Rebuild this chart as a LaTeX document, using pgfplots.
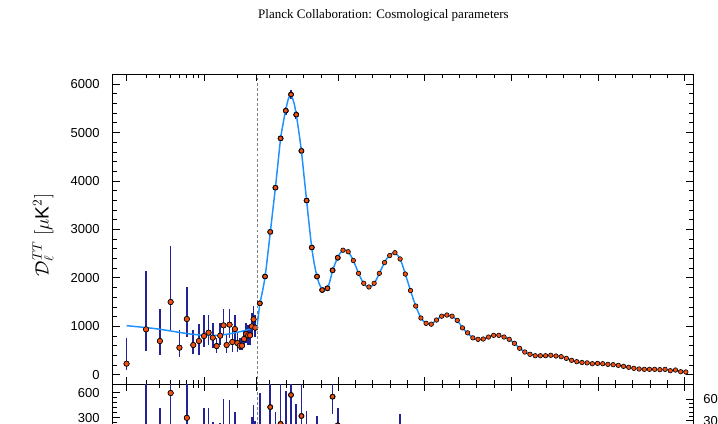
\documentclass[border=0pt]{standalone}
\usepackage{fontspec}
\setmainfont{Liberation Sans}
\newfontfamily\titlefont{Liberation Serif}
\usepackage{pgfplots}
\pgfplotsset{compat=1.18}

\definecolor{ptdot}{RGB}{240,80,20}
\definecolor{ptmodel}{RGB}{30,144,255}
\definecolor{pterr}{RGB}{35,35,150}

\pgfplotsset{
  planck/.style={
    scale only axis,
    axis line style={draw=none},
    clip mode=individual,
    tick align=inside,
    major tick length=5.25pt,
    minor tick length=3pt,
    every tick/.style={black, line width=0.7pt},
    tick label style={font=\fontsize{9.75}{10}\selectfont},
    /pgf/number format/assume math mode=true,
    /pgf/number format/1000 sep={},
    scaled y ticks=false,
    xticklabel=\empty,
  },
  errstyle/.style={only marks, mark=none, forget plot,
    error bars/y dir=both, error bars/y explicit, error bars/error mark=none,
    error bars/error bar style={draw=pterr, line width=1.2pt, solid}},
  dotstyle/.style={only marks, mark=*, mark size=#1,
    mark options={fill=ptdot, draw=black, line width=0.45pt}},
  modelstyle/.style={smooth, ptmodel, line width=1.1pt, mark=none},
}

\begin{document}
\begin{tikzpicture}
\begin{scope}
\clip (0pt,0pt) rectangle (538.5pt,318pt);

\node[font=\titlefont\fontsize{9.75}{12}\selectfont] at (287.6pt,306.75pt)
  {Planck Collaboration: Cosmological parameters};
\node[rotate=90, font=\fontsize{14.4}{17}\selectfont] at (32.25pt,141.75pt)
  {$\mathcal{D}_\ell^{TT}$ $[\mu\mathrm{K}^2]$};
\node[rotate=90, anchor=east, font=\fontsize{14.4}{17}\selectfont] at (23.25pt,-2pt)
  {$\Delta\mathcal{D}_\ell^{TT}$ $[\mu\mathrm{K}^2]$};

% ---------- top panel, low multipoles (log scale) ----------
\begin{axis}[planck, xmode=log, xmin=1.5, xmax=30,
  xtick={2,10,30}, minor xtick={3,4,5,6,7,8,9,20},
  xtick pos=both, ytick pos=left, yticklabel style={xshift=-6.3pt},
  at={(84.525pt,29.625pt)}, anchor=south west,
  width=108.15pt, height=232.5pt, ymin=-200, ymax=6200,
  ytick={0,1000,...,6000}, minor y tick num=4]
  \draw[line width=1pt] (rel axis cs:1,0) -| (rel axis cs:0,1) -- (rel axis cs:1,1);
  \addplot[errstyle] coordinates {
    (2,229) += (0,524) -= (0,130)
    (3,939) += (0,1204) -= (0,448)
    (4,698) += (0,654) -= (0,296)
    (5,1503) += (0,1156) -= (0,578)
    (6,560) += (0,365) -= (0,199)
    (7,1152) += (0,667) -= (0,365)
    (8,615) += (0,310) -= (0,185)
    (9,698) += (0,351) -= (0,289)
    (10,801) += (0,433) -= (0,227)
    (11,870) += (0,364) -= (0,255)
    (12,766) += (0,297) -= (0,219)
    (13,594) += (0,159) -= (0,151)
    (14,808) += (0,255) -= (0,193)
    (15,1021) += (0,337) -= (0,199)
    (16,615) += (0,207) -= (0,172)
    (17,1035) += (0,323) -= (0,282)
    (18,677) += (0,248) -= (0,199)
    (19,945) += (0,289) -= (0,295)
    (20,656) += (0,200) -= (0,178)
    (21,601) += (0,152) -= (0,89)
    (22,601) += (0,152) -= (0,89)
    (23,739) += (0,186) -= (0,159)
    (24,842) += (0,234) -= (0,192)
    (25,815) += (0,213) -= (0,200)
    (26,815) += (0,213) -= (0,200)
    (27,1000) += (0,270) -= (0,213)
    (28,1145) += (0,275) -= (0,220)
    (29,973) += (0,261) -= (0,186)
  };
  \addplot[modelstyle] coordinates {
    (2,1014) (3,975) (4,940) (5,905) (6,875) (7,852) (8,835) (10,816)
    (12,813) (14,820) (16,836) (18,856) (20,878) (22,900) (24,922)
    (26,944) (28,966) (30,988)
  };
  \addplot[dotstyle=2pt] coordinates {
    (2,229) (3,939) (4,698) (5,1503) (6,560) (7,1152) (8,615) (9,698)
    (10,801) (11,870) (12,766) (13,594) (14,808) (15,1021) (16,615)
    (17,1035) (18,677) (19,945) (20,656) (21,601) (22,601) (23,739)
    (24,842) (25,815) (26,815) (27,1000) (28,1145) (29,973)
  };
\end{axis}

% ---------- top panel, high multipoles (linear scale) ----------
\begin{axis}[planck, xmin=30, xmax=2550,
  xtick={500,1000,1500,2000,2500},
  minor xtick={100,200,300,400,600,700,800,900,1100,1200,1300,1400,
               1600,1700,1800,1900,2100,2200,2300,2400},
  xtick pos=both, ytick pos=right,
  at={(192.675pt,29.625pt)}, anchor=south west,
  width=327.3pt, height=232.5pt, ymin=-200, ymax=6200,
  ytick={0,1000,...,6000}, minor y tick num=4, yticklabel=\empty]
  \draw[gray, dash pattern=on 2.2pt off 1.6pt, line width=0.6pt]
    (rel axis cs:0,0) -- (rel axis cs:0,1);
  \draw[line width=1pt] (rel axis cs:0,0) -| (rel axis cs:1,1) -- (rel axis cs:0,1);
  \addplot[errstyle] coordinates {
    (47,1476) +- (0,48) (77,2030) +- (0,55) (107,2950) +- (0,65)
    (137,3863) +- (0,67) (167,4882) +- (0,75) (197,5453) +- (0,81)
    (227,5787) +- (0,85) (257,5370) +- (0,83) (287,4623) +- (0,75)
    (317,3598) +- (0,59) (347,2628) +- (0,45) (377,2029) +- (0,32)
    (407,1751) +- (0,27) (437,1786) +- (0,25) (467,2157) +- (0,24)
    (497,2418) +- (0,24)
  };
  \addplot[modelstyle] coordinates {
    (30,988) (38,1200) (47,1460) (62,1720) (77,2020) (92,2460) (107,2930)
    (122,3400) (137,3870) (152,4380) (167,4880) (182,5200) (197,5480)
    (212,5700) (222,5760) (232,5740) (245,5600) (257,5380) (272,5020)
    (287,4620) (302,4110) (317,3600) (332,3090) (347,2620) (362,2280)
    (377,2030) (392,1860) (407,1770) (422,1745) (437,1780) (452,1940)
    (467,2150) (482,2300) (497,2420) (512,2520) (527,2565) (542,2575)
    (557,2540) (572,2460) (587,2360) (602,2230) (617,2095) (632,1980)
    (647,1890) (662,1830) (677,1812) (692,1830) (707,1885) (722,1980)
    (737,2095) (752,2210) (767,2318) (782,2410) (797,2465) (812,2510)
    (827,2515) (842,2470) (857,2390) (872,2250) (887,2080) (902,1910)
    (917,1740) (932,1575) (947,1420) (962,1290) (977,1175) (992,1110)
    (1007,1065) (1022,1048) (1037,1050) (1052,1085) (1067,1132) (1082,1175)
    (1097,1210) (1112,1230) (1127,1234) (1142,1225) (1157,1205) (1172,1170)
    (1187,1120) (1202,1050) (1217,970) (1232,912) (1247,862) (1262,810)
    (1277,765) (1292,740) (1307,733) (1322,733) (1337,742) (1352,760)
    (1367,782) (1382,802) (1397,813) (1412,818) (1427,812) (1442,800)
    (1457,780) (1472,758) (1487,730) (1502,695) (1517,648) (1532,598)
    (1547,550) (1562,508) (1577,472) (1592,445) (1607,424) (1637,400)
    (1667,394) (1697,395) (1727,398) (1757,392) (1787,372) (1817,340)
    (1847,302) (1877,273) (1907,255) (1937,245) (1967,236) (1997,232)
    (2027,227) (2057,218) (2087,208) (2117,194) (2147,176) (2177,157)
    (2207,138) (2237,124) (2267,116) (2297,113) (2327,111) (2357,108)
    (2387,104) (2417,96) (2447,87) (2477,76) (2507,66)
  };
  \addplot[dotstyle=1.7pt] coordinates {
    (47,1476) (77,2030) (107,2950) (137,3863) (167,4882) (197,5453)
    (227,5787) (257,5370) (287,4623) (317,3598) (347,2628) (377,2029)
    (407,1751) (437,1786) (467,2157) (497,2418) (527,2572) (557,2541)
    (587,2360) (617,2095) (647,1889) (677,1813) (707,1889) (737,2095)
    (767,2318) (797,2463) (827,2521) (857,2391) (887,2081) (917,1740)
    (947,1420) (977,1173) (1007,1063) (1037,1045) (1067,1131) (1097,1210)
    (1127,1234) (1157,1210) (1187,1124) (1217,969) (1247,866) (1277,763)
    (1307,733) (1337,739) (1367,780) (1397,815) (1427,815) (1457,780)
    (1487,733) (1517,650) (1547,547) (1577,471) (1607,423) (1637,394)
    (1667,394) (1697,394) (1727,403) (1757,388) (1787,374) (1817,340)
    (1847,299) (1877,271) (1907,254) (1937,247) (1967,229) (1997,236)
    (2027,229) (2057,216) (2087,209) (2117,196) (2147,175) (2177,155)
    (2207,134) (2237,120) (2267,113) (2297,113) (2327,113) (2357,106)
    (2387,113) (2417,85) (2447,99) (2477,64) (2507,58)
  };
\end{axis}

% ---------- residuals, low multipoles ----------
\begin{axis}[planck, xmode=log, xmin=1.5, xmax=30,
  xtick={2,10,30}, minor xtick={3,4,5,6,7,8,9,20},
  xtick pos=both, ytick pos=left, yticklabel style={xshift=-6.3pt},
  at={(84.525pt,29.625pt)}, anchor=north west,
  width=108.15pt, height=87.5pt, ymin=-700, ymax=700,
  ytick={-600,-300,0,300,600}, minor y tick num=4]
  \draw[line width=1pt] (rel axis cs:1,0) -| (rel axis cs:0,1) -- (rel axis cs:1,1);
  \addplot[errstyle] coordinates {
    (2,-785) += (0,524) -= (0,130)
    (3,-36) += (0,1204) -= (0,448)
    (4,-242) += (0,654) -= (0,296)
    (5,598) += (0,1156) -= (0,578)
    (6,-315) += (0,365) -= (0,199)
    (7,300) += (0,667) -= (0,365)
    (8,-220) += (0,310) -= (0,185)
    (9,-125) += (0,351) -= (0,289)
    (10,-15) += (0,433) -= (0,227)
    (11,57) += (0,364) -= (0,255)
    (12,-47) += (0,297) -= (0,219)
    (13,-221) += (0,159) -= (0,151)
    (14,-12) += (0,255) -= (0,193)
    (15,193) += (0,337) -= (0,199)
    (16,-221) += (0,207) -= (0,172)
    (17,189) += (0,323) -= (0,282)
    (18,-179) += (0,248) -= (0,199)
    (19,78) += (0,289) -= (0,295)
    (20,-222) += (0,200) -= (0,178)
    (21,-288) += (0,152) -= (0,89)
    (22,-299) += (0,152) -= (0,89)
    (23,-172) += (0,186) -= (0,159)
    (24,-80) += (0,234) -= (0,192)
    (25,-118) += (0,213) -= (0,200)
    (26,-129) += (0,213) -= (0,200)
    (27,45) += (0,270) -= (0,213)
    (28,179) += (0,275) -= (0,220)
    (29,-4) += (0,261) -= (0,186)
  };
  \addplot[dotstyle=2pt] coordinates {
    (2,-785) (3,-36) (4,-242) (5,598) (6,-315) (7,300) (8,-220) (9,-125)
    (10,-15) (11,57) (12,-47) (13,-221) (14,-12) (15,193) (16,-221)
    (17,189) (18,-179) (19,78) (20,-222) (21,-288) (22,-299) (23,-172)
    (24,-80) (25,-118) (26,-129) (27,45) (28,179) (29,-4)
  };
\end{axis}

% ---------- residuals, high multipoles ----------
\begin{axis}[planck, xmin=30, xmax=2550,
  xtick={500,1000,1500,2000,2500},
  minor xtick={100,200,300,400,600,700,800,900,1100,1200,1300,1400,
               1600,1700,1800,1900,2100,2200,2300,2400},
  xtick pos=both, ytick pos=right,
  at={(192.675pt,29.625pt)}, anchor=north west,
  width=327.3pt, height=87.5pt, ymin=-80, ymax=80,
  ytick={-60,-30,0,30,60}, minor y tick num=4,
  yticklabel style={xshift=4pt}]
  \draw[gray, dash pattern=on 2.2pt off 1.6pt, line width=0.6pt]
    (rel axis cs:0,0) -- (rel axis cs:0,1);
  \draw[line width=1pt] (rel axis cs:0,0) -| (rel axis cs:1,1) -- (rel axis cs:0,1);
  \addplot[errstyle] coordinates {
    (47,20) +- (0,48) (77,-40) +- (0,55) (107,49) +- (0,65)
    (137,-25) +- (0,67) (167,26) +- (0,75) (197,-10) +- (0,81)
    (227,65.6) +- (0,85) (257,-30) +- (0,83) (287,36.8) +- (0,75)
    (317,-15) +- (0,59) (347,-30) +- (0,45) (377,5) +- (0,32)
    (407,-10) +- (0,27) (437,-5) +- (0,25) (467,63.3) +- (0,24)
    (497,24) +- (0,24) (857,15) +- (0,24)
  };
  \addplot[dotstyle=1.7pt] coordinates {
    (47,20) (77,-40) (107,49) (137,-25) (167,26) (197,-10) (227,65.6)
    (257,-30) (287,36.8) (317,-15) (347,-30) (377,5) (407,-10) (437,-5)
    (467,63.3) (497,24) (857,15)
  };
\end{axis}
\end{scope}
\pgfresetboundingbox
\path[use as bounding box] (0pt,0pt) rectangle (538.5pt,318pt);
\end{tikzpicture}
\end{document}
